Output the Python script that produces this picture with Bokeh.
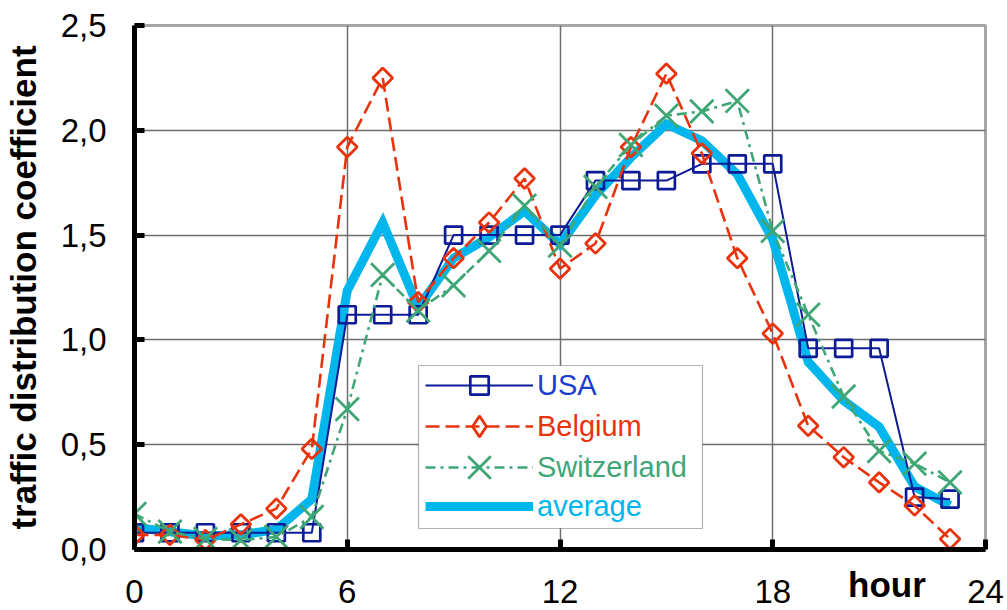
import math
from bokeh.plotting import figure
from bokeh.models import (Range1d, FixedTicker, CustomJSTickFormatter, Legend,
                          LegendItem, BoxAnnotation, LinearAxis)
from bokeh.core.properties import value
from bokeh.embed import file_html
from bokeh.resources import INLINE

# ---------------- data ----------------
hours = list(range(24))
usa = [0.08, 0.08, 0.08, 0.08, 0.08, 0.08, 1.12, 1.12, 1.12, 1.50, 1.50, 1.50,
       1.50, 1.76, 1.76, 1.76, 1.84, 1.84, 1.84, 0.96, 0.96, 0.96, 0.25, 0.24]
belgium = [0.07, 0.07, 0.045, 0.12, 0.195, 0.48, 1.92, 2.25, 1.18, 1.39, 1.56, 1.77,
           1.34, 1.46, 1.92, 2.27, 1.89, 1.39, 1.03, 0.59, 0.44, 0.32, 0.21, 0.05]
switzerland = [0.17, 0.085, 0.05, 0.045, 0.06, 0.155, 0.67, 1.31, 1.14, 1.26, 1.425, 1.64,
               1.45, 1.73, 1.93, 2.07, 2.09, 2.14, 1.52, 1.12, 0.73, 0.47, 0.41, 0.32]
average = [0.105, 0.085, 0.065, 0.07, 0.095, 0.24, 1.235, 1.56, 1.155, 1.39, 1.49, 1.615,
           1.455, 1.69, 1.87, 2.03, 1.95, 1.79, 1.48, 0.895, 0.71, 0.585, 0.30, 0.21]

series_names = ["USA", "Belgium", "Switzerland", "average"]
x_ticks = [0, 6, 12, 18, 24]
y_ticks = [0.0, 0.5, 1.0, 1.5, 2.0, 2.5]
x_title = "hour"
y_title = "traffic distribution coefficient"

# ---------------- styles ----------------
C_USA, C_USA_TXT = "#0c1b96", "#1a3dd0"
C_BEL = "#e8330c"
C_SWI = "#3fa676"
C_AVG = "#00b6ec"
FONT = "Liberation Sans"
X_TITLE_POS = 21.22      # where the x title sits along the hour axis

W, H = 1007, 610
p = figure(width=W, height=H, output_backend="svg", toolbar_location=None,
           x_range=Range1d(0, 24), y_range=Range1d(0, 2.5),
           min_border_left=134, min_border_right=22, min_border_top=25,
           min_border_bottom=61)
p.background_fill_color = "white"
p.border_fill_color = "white"
p.outline_line_color = "#a6a6a6"
p.outline_line_width = 3

# grids
p.xgrid.ticker = FixedTicker(ticks=x_ticks[1:-1])
p.ygrid.ticker = FixedTicker(ticks=y_ticks[1:-1])
for g in (p.xgrid, p.ygrid):
    g.grid_line_color = "#6e6e6e"
    g.grid_line_width = 1.5

# axes
p.xaxis.ticker = FixedTicker(ticks=x_ticks)
p.yaxis.ticker = FixedTicker(ticks=y_ticks)
p.yaxis.formatter = CustomJSTickFormatter(code="return tick.toFixed(1).replace('.', ',');")
for ax in (p.xaxis, p.yaxis):
    ax.axis_line_width = 5
    ax.axis_line_color = "black"
    ax.major_tick_in = 10
    ax.major_tick_out = 0
    ax.major_tick_line_width = 5
    ax.major_tick_line_color = "black"
    ax.minor_tick_line_color = None
    ax.major_label_text_font = FONT
    ax.major_label_text_font_size = "33px"
    ax.major_label_text_color = "black"
p.yaxis.major_label_standoff = 28
p.xaxis.major_label_standoff = 30

p.yaxis.axis_label = y_title
p.yaxis.axis_label_text_font = FONT
p.yaxis.axis_label_text_font_size = "35px"
p.yaxis.axis_label_text_font_style = "bold"
p.yaxis.axis_label_text_color = "black"
p.yaxis.axis_label_standoff = 15

# x title: a label-only axis pulled up onto the tick-label row
title_axis = LinearAxis(ticker=FixedTicker(ticks=[X_TITLE_POS]),
                        major_label_overrides={X_TITLE_POS: x_title},
                        axis_line_color=None, major_tick_line_color=None,
                        minor_tick_line_color=None, major_tick_in=0, major_tick_out=0,
                        major_label_standoff=-41, major_label_text_font=FONT,
                        major_label_text_font_size="35px",
                        major_label_text_font_style="bold",
                        major_label_text_color="black")
p.add_layout(title_axis, "below")

# ---------------- series ----------------
avg_line = p.line(hours, average, line_color=C_AVG, line_width=9, line_join="miter")

usa_line = p.line(hours, usa, line_color=C_USA, line_width=2)
usa_pts = p.scatter(hours, usa, marker="square", size=17, line_color=C_USA,
                    line_width=2.7, fill_alpha=0)

bel_line = p.line(hours, belgium, line_color=C_BEL, line_width=2.6, line_dash="14 6")
bel_pts = p.scatter(hours, belgium, marker="square", angle=math.pi / 4, size=14,
                    line_color=C_BEL, line_width=2.8, fill_alpha=0)
# legend swatch for the diamond marker (legend swatches ignore marker angle)
bel_key = p.scatter(hours, belgium, marker="diamond", line_color=C_BEL, line_width=2.8,
                    fill_alpha=0, visible=False)

swi_line = p.line(hours, switzerland, line_color=C_SWI, line_width=2.6,
                  line_dash="10 5 3 5")
swi_pts = p.scatter(hours, switzerland, marker="x", size=33, line_color=C_SWI,
                    line_width=2.8)

# ---------------- legend ----------------
p.add_layout(BoxAnnotation(left=284, right=568, top=184, bottom=21,
                           left_units="screen", right_units="screen",
                           top_units="screen", bottom_units="screen",
                           fill_color="white", fill_alpha=1,
                           line_color="black", line_width=1.2))

legend_specs = [
    (series_names[0], C_USA_TXT, [usa_line, usa_pts], 164, 46),
    (series_names[1], C_BEL, [bel_line, bel_key], 123, 52),
    (series_names[2], C_SWI, [swi_line, swi_pts], 82, 80),
    (series_names[3], C_AVG, [avg_line], 43, 46),
]
for name, col, rends, center, gh in legend_specs:
    leg = Legend(items=[LegendItem(label=value(name), renderers=rends)],
                 location=(291, center - gh / 2),
                 glyph_width=108, glyph_height=gh, label_height=gh,
                 label_standoff=4, padding=0, margin=0, spacing=0,
                 label_text_font=FONT, label_text_font_size="29px",
                 label_text_color=col, label_text_baseline="middle",
                 border_line_alpha=0, background_fill_alpha=0)
    p.add_layout(leg)

open("out.html", "w").write(file_html(p, INLINE))
